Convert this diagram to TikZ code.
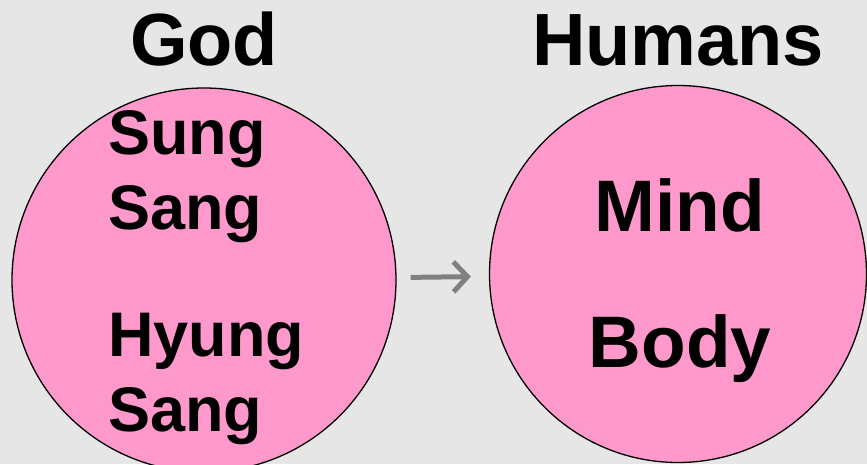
\documentclass[tikz,border=0pt]{standalone}
\usepackage{fontspec}
\setmainfont{Liberation Sans}
\usetikzlibrary{arrows.meta}
\definecolor{bggray}{HTML}{E6E6E6}
\definecolor{ballpink}{HTML}{FF99CC}
\definecolor{arrowgray}{HTML}{808080}
\begin{document}
\begin{tikzpicture}[x=1pt,y=1pt,
	ball/.style={circle, draw=black, line width=1.3pt, fill=ballpink, minimum size=#1, inner sep=0pt},
	title/.style={anchor=base, inner sep=0pt, font=\fontsize{74}{74}\selectfont\bfseries},
	word/.style={anchor=base west, inner sep=0pt, font=\fontsize{63}{63}\selectfont\bfseries},
	bigword/.style={anchor=base, inner sep=0pt, font=\fontsize{73}{73}\selectfont\bfseries}]
	\fill[bggray] (0,0) rectangle (867,464);
	\useasboundingbox (0,0) rectangle (867,464);
	\clip (0,0) rectangle (867,464);
	% the two circles
	\node[ball=384pt] (god) at (204,184) {};
	\node[ball=377pt] (humans) at (678,190) {};
	\draw[arrowgray, line width=5pt, -{Straight Barb[length=14pt,width=30pt]}, shorten <=14pt, shorten >=18pt] (god) -- (humans);
	% titles
	\node[title] (godtitle) at (204,398) {God};
	\node[title] (humanstitle) at (678,398) {Humans};
	% left circle
	\node[word] (sung) at (108,309) {Sung};
	\node[word] (sang) at (108,234) {Sang};
	\node[word] (hyung) at (108,108) {Hyung};
	\node[word] (sangb) at (108,33) {Sang};
	% right circle
	\node[bigword] (mind) at (680,232) {Mind};
	\node[bigword] (body) at (680,97) {Body};
\end{tikzpicture}
\end{document}
